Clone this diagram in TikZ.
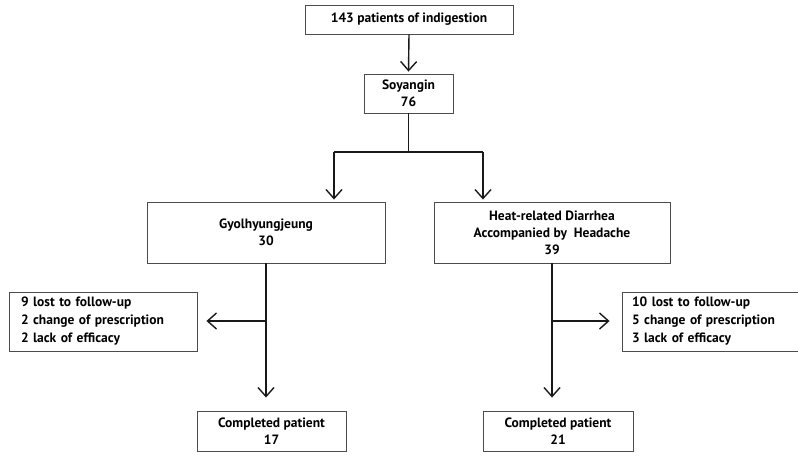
\documentclass[tikz,border=0pt]{standalone}
\usepackage{fontspec}
\setmainfont{PT Sans}
\usetikzlibrary{arrows.meta}
\begin{document}
\begin{tikzpicture}[x=1pt,y=-1pt,
  box/.style={draw=black!70, line width=0.9pt, fill=white, inner sep=0pt, align=center,
    font=\fontsize{13.5}{17}\selectfont\bfseries},
  lostbox/.style={box, align=left, text width=#1, font=\fontsize{13.5}{18}\selectfont\bfseries},
  conn/.style={draw=black!90, line width=1.4pt},
  arr/.style={conn, -{Straight Barb[length=9pt,width=16pt,line width=1.4pt]}}
]
\useasboundingbox (0,0) rectangle (798,461);
\node[box, minimum width=208pt, minimum height=29pt] (top) at (409,19.5) {143 patients of indigestion};
\node[box, minimum width=89pt, minimum height=39pt] (soy) at (408.5,93.5) {Soyangin\\76};
\node[box, minimum width=238pt, minimum height=61pt] (gyo) at (266,232.5) {Gyolhyungjeung\\30};
\node[box, minimum width=236pt, minimum height=61pt] (heat) at (552,232.5) {Heat-related Diarrhea\\Accompanied by\ \ Headache\\39};
\node[lostbox=164pt, minimum width=188pt, minimum height=59pt] (lostL) at (103,321.5) {9 lost to follow-up\\2 change of prescription\\2 lack of efficacy};
\node[lostbox=160pt, minimum width=180pt, minimum height=59pt] (lostR) at (712,321.5) {10 lost to follow-up\\5 change of prescription\\3 lack of efficacy};
\node[box, minimum width=149pt, minimum height=40pt] (compL) at (271.5,431) {Completed patient\\17};
\node[box, minimum width=150pt, minimum height=40pt] (compR) at (558,431) {Completed patient\\21};

\coordinate (split) at (408.5,152);
\coordinate (gyoin) at (334,152);
\coordinate (heatin) at (483,152);
\coordinate (brL) at (266,321);
\coordinate (brR) at (552,321);

\draw[arr] (top.south) -- ([yshift=2pt]soy.north);
\draw[conn] (soy.south) -- (split);
\draw[conn] (gyoin) -- (heatin);
\draw[arr] (gyoin) -- ([yshift=2pt]gyoin |- gyo.north);
\draw[arr] (heatin) -- ([yshift=2pt]heatin |- heat.north);
\draw[arr] (brL |- gyo.south) -- ([yshift=13pt]brL |- compL.north);
\draw[arr] (brR |- heat.south) -- ([yshift=13pt]brR |- compR.north);
\draw[arr] (brL) -- ([xshift=9pt]lostL.east |- brL);
\draw[arr] (brR) -- ([xshift=-12pt]lostR.west |- brR);
\end{tikzpicture}
\end{document}
